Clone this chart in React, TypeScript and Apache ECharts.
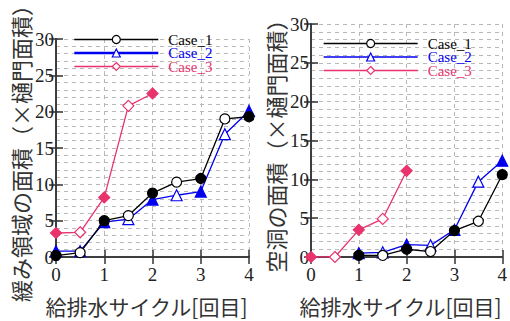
import React, { useEffect, useRef } from "react";
import * as echarts from "echarts";

const xsFull = [0, 0.5, 1, 1.5, 2, 2.5, 3, 3.5, 4];
const xsHalf = [0, 0.5, 1, 1.5, 2];
const xsFrom1 = [1, 1.5, 2, 2.5, 3, 3.5, 4];

const leftCase1 = [0.2, 0.6, 5.0, 5.7, 8.8, 10.3, 10.8, 19.0, 19.3];
const leftCase2 = [0.8, 0.8, 4.8, 5.2, 7.9, 8.5, 9.0, 16.9, 20.1];
const leftCase3 = [3.3, 3.4, 8.2, 20.8, 22.5];

const rightCase1 = [0.2, 0.2, 1.0, 0.7, 3.4, 4.6, 10.6];
const rightCase2 = [0.5, 0.6, 1.6, 1.5, 3.5, 9.7, 12.4];
const rightCase3 = [0, 0, 3.5, 4.9, 11.1];

const xTicks = [0, 1, 2, 3, 4];
const yTicks = [0, 5, 10, 15, 20, 25, 30];

const names = ["Case_1", "Case_2", "Case_3"];
const colors = ["#000000", "#0000ee", "#e8336c"];
const symbols = ["circle", "triangle", "diamond"];

const leftYName = "緩み領域の面積（×樋門面積）";
const rightYName = "空洞の面積（×樋門面積）";
const xName = "給排水サイクル[回目]";

const SERIF = "Times New Roman, Liberation Serif, DejaVu Serif, serif";
const CJK = "Noto Sans CJK JP";

function pts(xs: number[], ys: number[], color: string) {
  return ys.map((y, i) => {
    const x = xs[i];
    const filled = Number.isInteger(x);
    return {
      value: [x, y],
      itemStyle: {
        color: filled ? color : "#ffffff",
        borderColor: color,
        borderWidth: 1.2,
      },
    };
  });
}

export default function App() {
  const ref = useRef<HTMLDivElement>(null);
  useEffect(() => {
    if (!ref.current) return;
    const chart = echarts.init(ref.current, undefined, { renderer: "svg" });
    const grids = [
      { left: 56, top: 24, width: 193, height: 249 },
      { left: 311, top: 24, width: 193, height: 249 },
    ];
    const dashed = { show: true, lineStyle: { color: "#b8b8b8", type: [4, 4] as any, width: 1 } };
    const xBottom = (gi: number) => ({
      type: "value",
      gridIndex: gi,
      min: 0,
      max: 4,
      interval: 1,
      position: "bottom",
      name: xName,
      nameLocation: "middle",
      nameGap: 38,
      nameTextStyle: { fontFamily: CJK, fontSize: 21, color: "#333", padding: [0, 12, 0, 0] },
      axisLine: { show: true, lineStyle: { color: "#333", width: 1.5 } },
      axisTick: { show: true, inside: true, length: 7, lineStyle: { color: "#333", width: 1.5 } },
      axisLabel: {
        fontFamily: SERIF,
        fontSize: 19,
        color: "#222",
        margin: 8,
        formatter: (v: number) => (xTicks.includes(v) ? String(v) : ""),
      },
      splitLine: dashed,
    });
    const xTop = (gi: number) => ({
      type: "value",
      gridIndex: gi,
      min: 0,
      max: 4,
      interval: 1,
      position: "top",
      axisLine: { show: true, lineStyle: { color: "#333", width: 1.5 } },
      axisTick: { show: true, inside: true, length: 7, lineStyle: { color: "#333", width: 1.5 } },
      axisLabel: { show: false },
      splitLine: { show: false },
    });
    const yLeft = (gi: number, name: string) => ({
      type: "value",
      gridIndex: gi,
      min: 0,
      max: 30,
      interval: 5,
      position: "left",
      name,
      nameLocation: "middle",
      nameGap: 21,
      nameRotate: 90,
      nameTextStyle: { fontFamily: CJK, fontSize: 22, color: "#333" },
      axisLine: { show: true, lineStyle: { color: "#333", width: 1.5 } },
      axisTick: { show: true, inside: true, length: 7, lineStyle: { color: "#333", width: 1.5 } },
      axisLabel: {
        fontFamily: SERIF,
        fontSize: 19,
        color: "#222",
        margin: 2,
        formatter: (v: number) => (yTicks.includes(v) ? String(v) : ""),
      },
      splitLine: dashed,
      minorTick: { show: false, splitNumber: 5 },
      minorSplitLine: dashed,
    });
    const yRight = (gi: number) => ({
      type: "value",
      gridIndex: gi,
      min: 0,
      max: 30,
      interval: 5,
      position: "right",
      axisLine: { show: true, lineStyle: { color: "#333", width: 1.5 } },
      axisTick: { show: true, inside: true, length: 7, lineStyle: { color: "#333", width: 1.5 } },
      axisLabel: { show: false },
      splitLine: { show: false },
    });

    const mk = (name: string, idx: number, axis: number, xs: number[], ys: number[], z: number) => ({
      type: "line",
      name,
      xAxisIndex: axis,
      yAxisIndex: axis,
      symbol: symbols[idx],
      symbolSize: idx === 0 ? 10 : 11,
      lineStyle: { color: colors[idx], width: 1.3 },
      itemStyle: { color: colors[idx] },
      color: colors[idx],
      z,
      data: pts(xs, ys, colors[idx]),
    });

    const legendData = (thickBlue: boolean) =>
      names.map((n, i) => ({
        name: n,
        itemStyle: { color: "#ffffff", borderColor: colors[i], borderWidth: 1.2 },
        lineStyle: { color: colors[i], width: thickBlue && i === 1 ? 2.6 : 1.3 },
        textStyle: { color: colors[i], fontFamily: SERIF, fontSize: 15, padding: [0, 0, 0, 5] },
      }));

    const legendBase = {
      orient: "vertical",
      itemWidth: 84,
      itemHeight: 10,
      itemGap: -1.5,
      padding: 0,
      selectedMode: false,
      textStyle: { fontFamily: SERIF, fontSize: 15, padding: [0, 0, 0, 5] },
    };

    chart.setOption({
      animation: false,
      textStyle: { fontFamily: SERIF },
      grid: grids.map((g) => ({ ...g, containLabel: false })),
      xAxis: [xBottom(0), xBottom(1), xTop(0), xTop(1)],
      yAxis: [yLeft(0, leftYName), yLeft(1, rightYName), yRight(0), yRight(1)],
      legend: [
        { ...legendBase, left: 73, top: 32, data: legendData(true) },
        { ...legendBase, left: 323, top: 36, itemWidth: 94, data: legendData(false) },
      ],
      series: [
        mk(names[2], 2, 0, xsHalf, leftCase3, 3),
        mk(names[1], 1, 0, xsFull, leftCase2, 4),
        mk(names[0], 0, 0, xsFull, leftCase1, 5),
        mk(names[2], 2, 1, xsHalf, rightCase3, 3),
        mk(names[1], 1, 1, xsFrom1, rightCase2, 4),
        mk(names[0], 0, 1, xsFrom1, rightCase1, 5),
      ],
    });
    return () => chart.dispose();
  }, []);
  return <div ref={ref} style={{ width: 510, height: 321, position: "absolute", left: 0, top: 0, background: "#fff" }} />;
}
